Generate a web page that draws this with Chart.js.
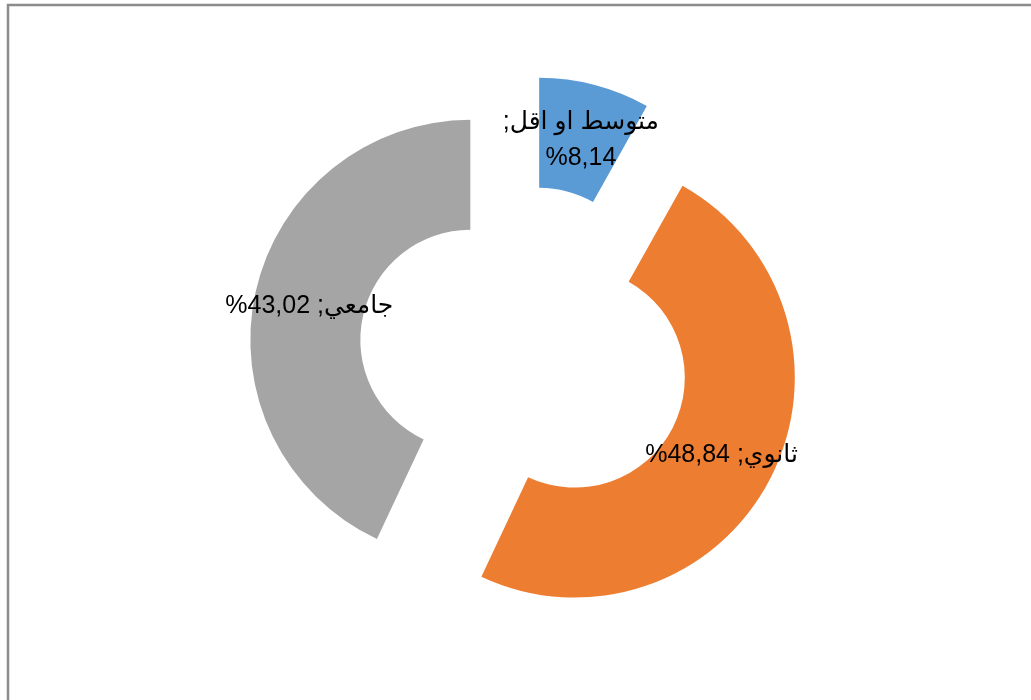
<!DOCTYPE html>
<html lang="ar">
<head>
<meta charset="utf-8">
<title>المستوى التعليمي</title>
<script src="https://cdn.jsdelivr.net/npm/chart.js@4/dist/chart.umd.min.js"></script>
<style>
    html, body { margin: 0; padding: 0; background: #ffffff; }
    canvas { display: block; }
</style>
</head>
<body>
<canvas id="edu-chart" width="1031" height="700"></canvas>
<script>
// Categorias e percentagens
const categories = ['متوسط او اقل', 'ثانوي', 'جامعي'];
const percentages = [8.14, 48.84, 43.02];
const sliceColors = ['#5b9bd5', '#ed7d31', '#a5a5a5'];

// Distância de "explosão" de cada fatia (px)
const EXPLODE = 56;
const LABEL_FONT = '25px "Liberation Sans", Arial, "DejaVu Sans", sans-serif';
const LABEL_MAX_WIDTH = 180;
const LINE_HEIGHT = 36;

// Formata o valor com vírgula decimal
function formatPercent(v) {
    return v.toFixed(2).replace('.', ',') + '%';
}

// Moldura cinza (topo e esquerda)
const framePlugin = {
    id: 'frame',
    beforeDraw(chart) {
        const ctx = chart.ctx;
        ctx.save();
        ctx.strokeStyle = '#8c8c8c';
        ctx.lineWidth = 2.5;
        ctx.strokeRect(8, 5, chart.width + 20, chart.height + 20);
        ctx.restore();
    }
};

// Afasta cada fatia do centro ao longo do seu ângulo médio
const explodePlugin = {
    id: 'explode',
    afterDatasetsUpdate(chart) {
        const meta = chart.getDatasetMeta(0);
        meta.data.forEach(arc => {
            const mid = (arc.startAngle + arc.endAngle) / 2;
            arc.x += Math.cos(mid) * EXPLODE;
            arc.y += Math.sin(mid) * EXPLODE;
        });
    }
};

// Rótulos "categoria; valor" no meio do anel
const labelPlugin = {
    id: 'sliceLabels',
    afterDatasetsDraw(chart) {
        const ctx = chart.ctx;
        const meta = chart.getDatasetMeta(0);
        ctx.save();
        ctx.font = LABEL_FONT;
        ctx.fillStyle = '#000000';
        ctx.textAlign = 'center';
        ctx.textBaseline = 'middle';
        ctx.direction = 'rtl';
        meta.data.forEach((arc, i) => {
            const mid = (arc.startAngle + arc.endAngle) / 2;
            const r = (arc.innerRadius + arc.outerRadius) / 2;
            const x = arc.x + Math.cos(mid) * r;
            const y = arc.y + Math.sin(mid) * r + 2;
            const value = formatPercent(percentages[i]);
            const full = categories[i] + '; ' + value;
            let lines = [full];
            if (ctx.measureText(full).width > LABEL_MAX_WIDTH) {
                // linha quebrada: ALM mantém o contexto árabe na 2ª linha
                lines = [categories[i] + ';', '\u061C' + value];
            }
            const top = y - (lines.length - 1) * LINE_HEIGHT / 2;
            lines.forEach((line, k) => ctx.fillText(line, x, top + k * LINE_HEIGHT));
        });
        ctx.restore();
    }
};

const ctx = document.getElementById('edu-chart').getContext('2d');
const chart = new Chart(ctx, {
    type: 'doughnut',
    data: {
        labels: categories,
        datasets: [{
            data: percentages,
            backgroundColor: sliceColors,
            borderWidth: 0
        }]
    },
    options: {
        responsive: false,
        animation: false,
        radius: 220,
        cutout: '50%',
        layout: { padding: { left: 19, right: 0, top: 4, bottom: 0 } },
        plugins: {
            legend: { display: false },
            tooltip: { enabled: false }
        }
    },
    plugins: [framePlugin, explodePlugin, labelPlugin]
});
</script>
</body>
</html>
